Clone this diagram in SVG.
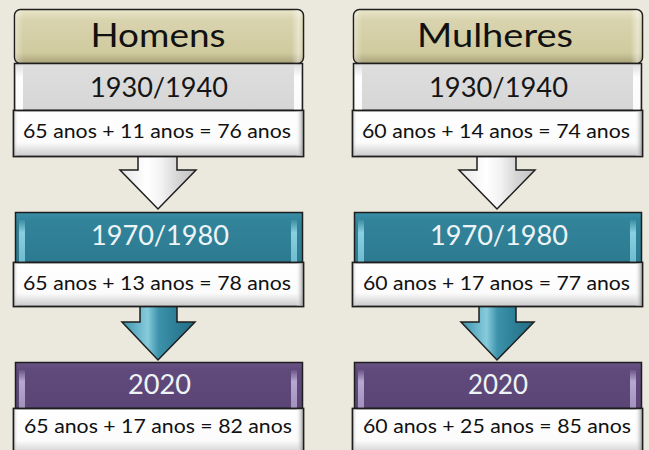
<svg xmlns="http://www.w3.org/2000/svg" width="649" height="450" viewBox="0 0 649 450">
<style>
text{font-family:Lato,"Liberation Sans",sans-serif;text-anchor:middle}
.hdr{font-size:32px;fill:#111}
.yr{font-size:26px;fill:#151515}
.yrw{font-size:26px;fill:#eef4f6}
.val{font-size:19.5px;fill:#111}
.bx{stroke:#1e1e1e;stroke-width:1.5}
.tb{fill:url(#wgrad);stroke:#1e1e1e;stroke-width:1.8}
.arrW{fill:url(#arrowW);stroke:#1e1e1e;stroke-width:1.5;stroke-linejoin:miter}
.arrT{fill:url(#arrowT);stroke:#1e1e1e;stroke-width:1.5;stroke-linejoin:miter}
</style>
<defs>
<linearGradient id="khaki" x1="0" y1="0" x2="0" y2="1">
<stop offset="0" stop-color="#e9e5c9"/><stop offset="0.2" stop-color="#d9d4ae"/><stop offset="0.8" stop-color="#d0ca9f"/><stop offset="1" stop-color="#a8a179"/>
</linearGradient>
<linearGradient id="khakiSide" x1="0" y1="0" x2="1" y2="0">
<stop offset="0" stop-color="#fff" stop-opacity="0.35"/><stop offset="0.03" stop-color="#fff" stop-opacity="0"/><stop offset="0.96" stop-color="#fff" stop-opacity="0"/><stop offset="0.985" stop-color="#fff" stop-opacity="0.45"/><stop offset="1" stop-color="#fff" stop-opacity="0.1"/>
</linearGradient>
<linearGradient id="grayg" x1="0" y1="0" x2="0" y2="1">
<stop offset="0" stop-color="#dedede"/><stop offset="1" stop-color="#d6d6d6"/>
</linearGradient>
<linearGradient id="wgrad" x1="0" y1="0" x2="0" y2="1">
<stop offset="0" stop-color="#ffffff"/><stop offset="0.7" stop-color="#fbfbfb"/><stop offset="1" stop-color="#c9c9c9"/>
</linearGradient>
<linearGradient id="wside" x1="0" y1="0" x2="1" y2="0">
<stop offset="0" stop-color="#9a9a9a" stop-opacity="0.5"/><stop offset="0.015" stop-color="#fff" stop-opacity="0"/><stop offset="0.975" stop-color="#fff" stop-opacity="0"/><stop offset="1" stop-color="#8a8a8a" stop-opacity="0.8"/>
</linearGradient>
<linearGradient id="tealg" x1="0" y1="0" x2="0" y2="1">
<stop offset="0" stop-color="#3a8ea6"/><stop offset="0.15" stop-color="#32849b"/><stop offset="1" stop-color="#2c7a90"/>
</linearGradient>
<linearGradient id="purpg" x1="0" y1="0" x2="0" y2="1">
<stop offset="0" stop-color="#6a5487"/><stop offset="0.15" stop-color="#604a7c"/><stop offset="1" stop-color="#5a4575"/>
</linearGradient>
<linearGradient id="stripW" x1="0" y1="0" x2="0" y2="1">
<stop offset="0" stop-color="#ffffff" stop-opacity="0.2"/><stop offset="0.25" stop-color="#ffffff" stop-opacity="0.95"/><stop offset="1" stop-color="#ffffff" stop-opacity="0.9"/>
</linearGradient>
<linearGradient id="stripT" x1="0" y1="0" x2="0" y2="1">
<stop offset="0" stop-color="#9fe3f2" stop-opacity="0.1"/><stop offset="0.3" stop-color="#9fe3f2" stop-opacity="0.8"/><stop offset="1" stop-color="#8ed8ea" stop-opacity="0.7"/>
</linearGradient>
<linearGradient id="stripP" x1="0" y1="0" x2="0" y2="1">
<stop offset="0" stop-color="#cdbfe6" stop-opacity="0.1"/><stop offset="0.3" stop-color="#cdbfe6" stop-opacity="0.8"/><stop offset="1" stop-color="#c2b2dd" stop-opacity="0.7"/>
</linearGradient>
<linearGradient id="arrowW" x1="0" y1="0" x2="1" y2="0">
<stop offset="0" stop-color="#e6e6e6"/><stop offset="0.35" stop-color="#ffffff"/><stop offset="0.55" stop-color="#f2f2f2"/><stop offset="0.75" stop-color="#d6d6d6"/><stop offset="1" stop-color="#c2c2c2"/>
</linearGradient>
<linearGradient id="arrowT" x1="0" y1="0" x2="1" y2="0">
<stop offset="0" stop-color="#3d93ab"/><stop offset="0.35" stop-color="#86cbdc"/><stop offset="0.5" stop-color="#3d93ab"/><stop offset="0.7" stop-color="#2e8199"/><stop offset="1" stop-color="#236c82"/>
</linearGradient>
</defs>
<rect width="649" height="450" fill="#ebe8dd"/>

<g id="connectors">
<path class="arrW" d="M138,156 H177 V170 H196 L158,209 L120,170 H138 Z"/>
<path class="arrT" d="M140,306 H177 V322 H195 L158,360 L122,322 H140 Z"/>
<path class="arrW" d="M477,156 H516 V170 H535 L497,209 L459,170 H477 Z"/>
<path class="arrT" d="M479,306 H516 V322 H534 L497,360 L461,322 H479 Z"/>
</g>

<g id="homens">
<rect class="bx" x="14.5" y="9.5" width="289" height="54" rx="6" fill="url(#khaki)"/>
<rect x="15" y="10" width="288" height="53" rx="6" fill="url(#khakiSide)"/>
<text class="hdr" x="158" y="47" textLength="135" lengthAdjust="spacingAndGlyphs">Homens</text>
</g>
<g id="h-1930">
<rect class="bx" x="14.5" y="63.5" width="288" height="47" fill="url(#grayg)"/>
<rect x="16" y="66" width="7" height="44" fill="url(#stripW)"/>
<rect x="294" y="66" width="7" height="44" fill="url(#stripW)"/>
<text class="yr" x="159" y="97" textLength="138" lengthAdjust="spacingAndGlyphs">1930/1940</text>
</g>
<g id="h-1930-val">
<rect class="tb" x="13.5" y="110.5" width="290" height="46"/>
<rect x="14" y="111" width="289" height="45" fill="url(#wside)"/>
<text class="val" x="157" y="138" textLength="268" lengthAdjust="spacingAndGlyphs">65 anos + 11 anos = 76 anos</text>
</g>
<g id="h-1970">
<rect class="bx" x="15.5" y="212.5" width="287" height="50" fill="url(#tealg)"/>
<rect x="19" y="220" width="6" height="42" fill="url(#stripT)"/>
<rect x="291" y="220" width="6" height="42" fill="url(#stripT)"/>
<text class="yrw" x="160" y="245" textLength="138" lengthAdjust="spacingAndGlyphs">1970/1980</text>
</g>
<g id="h-1970-val">
<rect class="tb" x="13.5" y="262.5" width="290" height="44"/>
<rect x="14" y="263" width="289" height="43" fill="url(#wside)"/>
<text class="val" x="157" y="290" textLength="268" lengthAdjust="spacingAndGlyphs">65 anos + 13 anos = 78 anos</text>
</g>
<g id="h-2020">
<rect class="bx" x="15.5" y="362.5" width="287" height="46" fill="url(#purpg)"/>
<rect x="19" y="370" width="6" height="38" fill="url(#stripP)"/>
<rect x="291" y="370" width="6" height="38" fill="url(#stripP)"/>
<text class="yrw" x="159.5" y="394" textLength="63" lengthAdjust="spacingAndGlyphs">2020</text>
</g>
<g id="h-2020-val">
<rect class="tb" x="13.5" y="408.5" width="290" height="46"/>
<rect x="14" y="409" width="289" height="45" fill="url(#wside)"/>
<text class="val" x="158" y="433" textLength="268" lengthAdjust="spacingAndGlyphs">65 anos + 17 anos = 82 anos</text>
</g>

<g id="mulheres">
<rect class="bx" x="353.5" y="9.5" width="289" height="54" rx="6" fill="url(#khaki)"/>
<rect x="354" y="10" width="288" height="53" rx="6" fill="url(#khakiSide)"/>
<text class="hdr" x="495" y="47" textLength="156" lengthAdjust="spacingAndGlyphs">Mulheres</text>
</g>
<g id="m-1930">
<rect class="bx" x="353.5" y="63.5" width="288" height="47" fill="url(#grayg)"/>
<rect x="355" y="66" width="7" height="44" fill="url(#stripW)"/>
<rect x="633" y="66" width="7" height="44" fill="url(#stripW)"/>
<text class="yr" x="498.5" y="97" textLength="139" lengthAdjust="spacingAndGlyphs">1930/1940</text>
</g>
<g id="m-1930-val">
<rect class="tb" x="352.5" y="110.5" width="290" height="46"/>
<rect x="353" y="111" width="289" height="45" fill="url(#wside)"/>
<text class="val" x="496" y="138" textLength="268" lengthAdjust="spacingAndGlyphs">60 anos + 14 anos = 74 anos</text>
</g>
<g id="m-1970">
<rect class="bx" x="354.5" y="212.5" width="287" height="50" fill="url(#tealg)"/>
<rect x="358" y="220" width="6" height="42" fill="url(#stripT)"/>
<rect x="630" y="220" width="6" height="42" fill="url(#stripT)"/>
<text class="yrw" x="499" y="245" textLength="138" lengthAdjust="spacingAndGlyphs">1970/1980</text>
</g>
<g id="m-1970-val">
<rect class="tb" x="352.5" y="262.5" width="290" height="44"/>
<rect x="353" y="263" width="289" height="43" fill="url(#wside)"/>
<text class="val" x="496.5" y="290" textLength="267" lengthAdjust="spacingAndGlyphs">60 anos + 17 anos = 77 anos</text>
</g>
<g id="m-2020">
<rect class="bx" x="354.5" y="362.5" width="287" height="46" fill="url(#purpg)"/>
<rect x="358" y="370" width="6" height="38" fill="url(#stripP)"/>
<rect x="630" y="370" width="6" height="38" fill="url(#stripP)"/>
<text class="yrw" x="498" y="394" textLength="60" lengthAdjust="spacingAndGlyphs">2020</text>
</g>
<g id="m-2020-val">
<rect class="tb" x="352.5" y="408.5" width="290" height="46"/>
<rect x="353" y="409" width="289" height="45" fill="url(#wside)"/>
<text class="val" x="497" y="433" textLength="268" lengthAdjust="spacingAndGlyphs">60 anos + 25 anos = 85 anos</text>
</g>
</svg>
